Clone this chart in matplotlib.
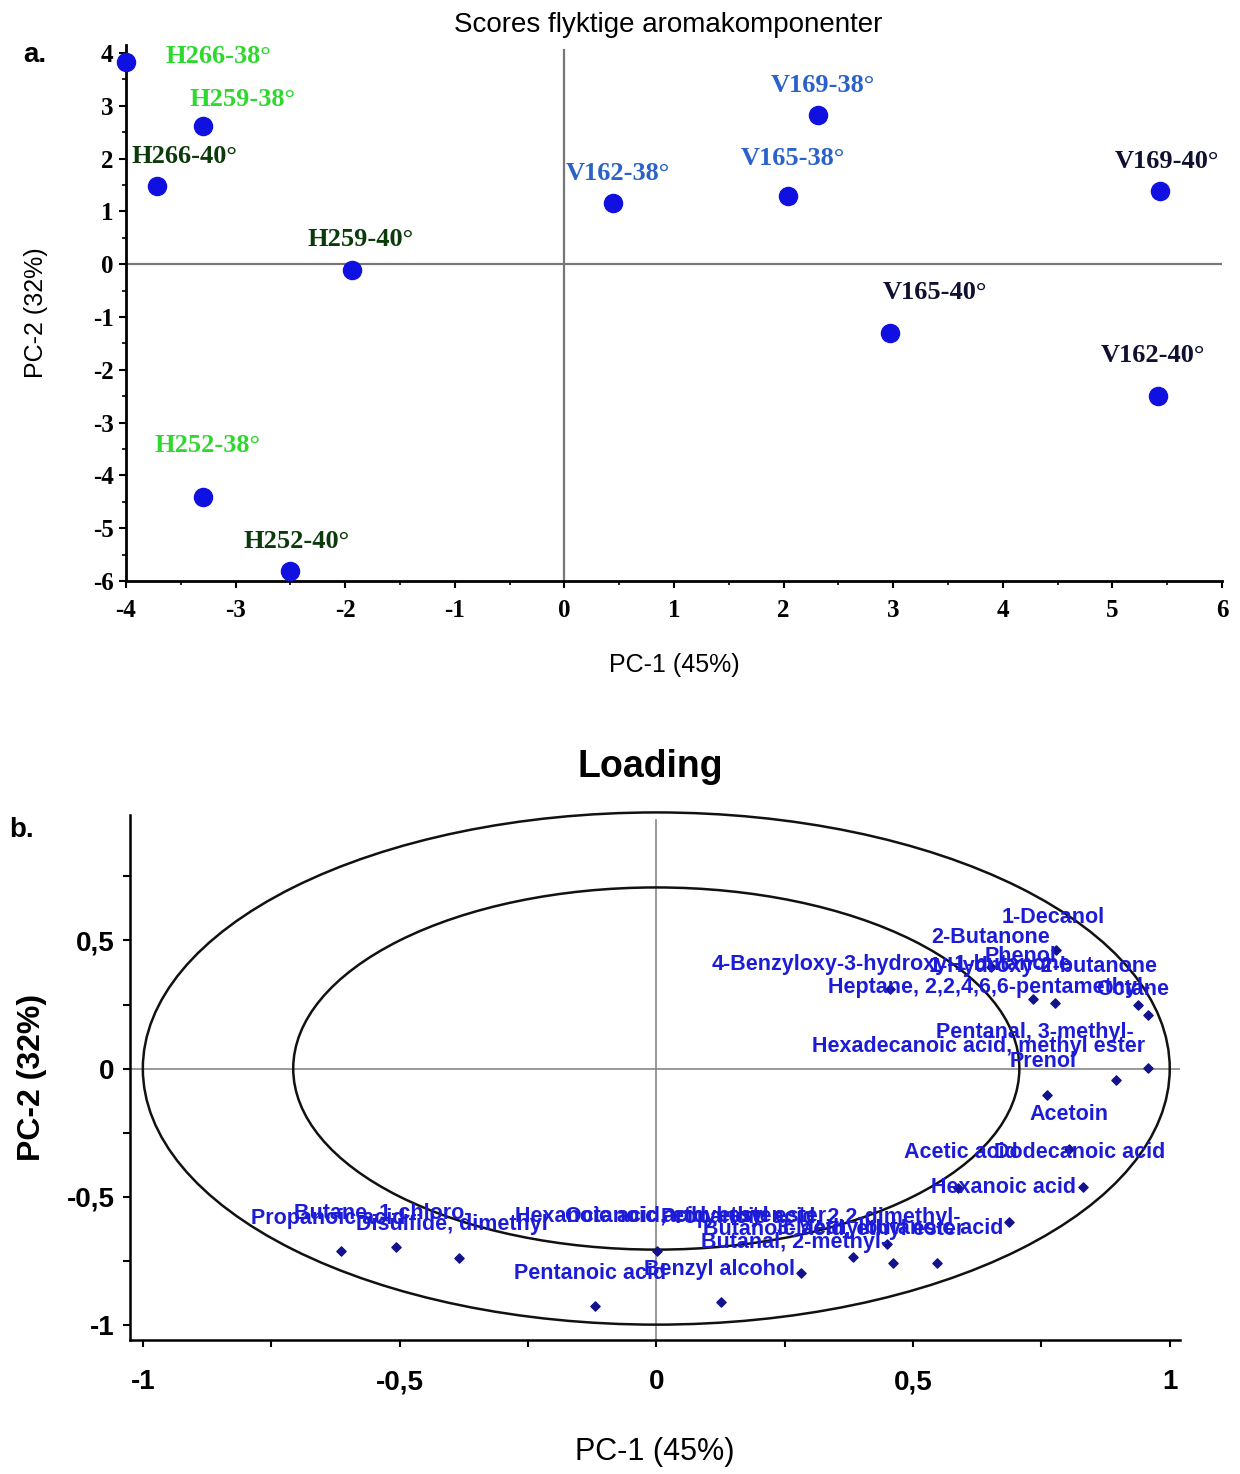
import matplotlib
matplotlib.use("Agg")
import matplotlib.pyplot as plt
from matplotlib.patches import Ellipse
from matplotlib.ticker import MultipleLocator, FuncFormatter

plt.rcParams['axes.unicode_minus'] = False

W, H, DPI = 1240, 1474, 100
PX = 72 / DPI  # points per pixel

# --- scores (panel a) ---
score_names = ['H266-38°', 'H259-38°', 'H266-40°', 'H259-40°', 'H252-38°', 'H252-40°',
               'V162-38°', 'V165-38°', 'V169-38°', 'V169-40°', 'V165-40°', 'V162-40°']
score_pc1 = [-4.0, -3.30, -3.72, -1.94, -3.30, -2.50, 0.44, 2.04, 2.31, 5.43, 2.97, 5.42]
score_pc2 = [3.83, 2.61, 1.48, -0.11, -4.41, -5.81, 1.16, 1.29, 2.82, 1.38, -1.31, -2.50]
score_group = ['H38', 'H38', 'H40', 'H40', 'H38', 'H40', 'V38', 'V38', 'V38', 'V40', 'V40', 'V40']

# --- loadings (panel b) ---
load_names = ['1-Decanol', '2-Butanone', 'Phenol', '4-Benzyloxy-3-hydroxy-1-butanone',
              '1-Hydroxy-2-butanone', 'Heptane, 2,2,4,6,6-pentamethyl-', 'Octane',
              'Pentanal, 3-methyl-', 'Hexadecanoic acid, methyl ester', 'Prenol', 'Acetoin',
              'Acetic acid', 'Dodecanoic acid', 'Hexanoic acid', '3-Methylbutanoic acid',
              'Propanoic acid, 2,2-dimethyl-', 'Butanoic acid, ethyl ester', 'Butanal, 2-methyl-',
              'Octanoic acid, ethyl ester', 'Hexanoic acid, ethyl ester', 'Benzyl alcohol',
              'Pentanoic acid', 'Disulfide, dimethyl', 'Butane, 1-chloro-', 'Propanoic acid']
load_pc1 = [0.778, 0.651, 0.733, 0.456, 0.776, 0.938, 0.957, 0.957, 0.895, 0.760, 0.803,
            0.587, 0.832, 0.686, 0.546, 0.462, 0.384, 0.281, 0.450, 0.002, 0.127, -0.119,
            -0.384, -0.507, -0.614]
load_pc2 = [0.461, 0.395, 0.273, 0.309, 0.254, 0.250, 0.211, 0.004, -0.043, -0.102, -0.316,
            -0.465, -0.461, -0.598, -0.758, -0.758, -0.734, -0.797, -0.684, -0.711, -0.910,
            -0.926, -0.738, -0.695, -0.711]
circle_radii = [1.0, 0.5 ** 0.5]

# label layout (pixels relative to point, y up)
score_off = [(92, 5), (40, 27), (28, 29), (9, 30), (5, 52), (6, 29),
             (5, 29), (5, 38), (5, 30), (7, 30), (45, 41), (-5, 41)]
load_lab = [('center', -3, 33), ('center', 0, 30), ('center', -12, 42), ('left', -179, 25),
            ('right', 103, 37), ('left', -310, 17), ('right', 21, 25), ('right', -14, 35),
            ('left', -304, 33), ('center', -3, 33), ('center', 0, 35), ('left', -54, 35),
            ('right', 82, 34), ('right', 67, 34), ('right', 67, 34), ('right', 67, 45),
            ('left', -150, 27), ('left', -100, 30), ('left', -322, 27), ('left', -142, 34),
            ('center', -2, 32), ('center', -5, 32), ('center', -7, 33), ('center', -13, 34),
            ('center', -13, 32)]

group_colors = {'H38': '#2fd82f', 'H40': '#0b3b0b', 'V38': '#2a62c9', 'V40': '#101030'}

fig = plt.figure(figsize=(W / DPI, H / DPI), dpi=DPI)


def px_axes(x0, y0, x1, y1):
    return fig.add_axes([x0 / W, 1 - y1 / H, (x1 - x0) / W, (y1 - y0) / H])


# ---------------- panel a ----------------
ax1 = px_axes(126, 45, 1222, 581)
ax1.set_xlim(-4, 6)
ax1.set_ylim(-6, 4.15)
ax1.axhline(0, color='#777777', lw=1.6, zorder=1)
ax1.axvline(0, ymax=0.99, color='#777777', lw=1.6, zorder=1)
ax1.scatter(score_pc1, score_pc2, s=170, color='#1010e0', zorder=3, clip_on=False)
for n, x, y, g, (dx, dy) in zip(score_names, score_pc1, score_pc2, score_group, score_off):
    ax1.annotate(n, (x, y), xytext=(dx * PX, dy * PX), textcoords='offset points',
                 ha='center', va='center', fontsize=19, fontweight='bold',
                 family='Liberation Serif', color=group_colors[g])
for s in ['top', 'right']:
    ax1.spines[s].set_visible(False)
for s in ['left', 'bottom']:
    ax1.spines[s].set_linewidth(2)
ax1.xaxis.set_major_locator(MultipleLocator(1))
ax1.xaxis.set_minor_locator(MultipleLocator(0.5))
ax1.yaxis.set_major_locator(MultipleLocator(1))
ax1.yaxis.set_minor_locator(MultipleLocator(0.5))
ax1.xaxis.set_major_formatter(FuncFormatter(lambda v, p: f"{v:g}"))
ax1.yaxis.set_major_formatter(FuncFormatter(lambda v, p: f"{v:g}"))
ax1.tick_params(which='major', length=5, width=1.5, labelsize=18)
ax1.tick_params(which='minor', length=3, width=1.2)
ax1.tick_params(axis='x', pad=8)
ax1.tick_params(axis='y', pad=4)
for lbl in ax1.get_xticklabels() + ax1.get_yticklabels():
    lbl.set_fontfamily('Liberation Serif')
    lbl.set_fontweight('bold')
ax1.set_xlabel('PC-1 (45%)', fontsize=18, family='Liberation Sans', labelpad=22)
ax1.set_ylabel('PC-2 (32%)', fontsize=18, family='Liberation Sans', labelpad=32)
fig.text(668 / W, 1 - 25 / H, 'Scores flyktige aromakomponenter', ha='center', va='center',
         fontsize=20, family='Liberation Sans')
fig.text(35 / W, 1 - 55 / H, 'a.', ha='center', va='center', fontsize=20,
         fontweight='bold', family='Liberation Sans')

# ---------------- panel b ----------------
ax2 = px_axes(130, 815, 1180, 1340)
ax2.set_xlim(-1.025, 1.02)
ax2.set_ylim(-1.06, 0.99)
ax2.axhline(0, color='#888888', lw=1.2, zorder=1)
ax2.axvline(0, ymax=0.99, color='#888888', lw=1.2, zorder=1)
for r in circle_radii:
    ax2.add_patch(Ellipse((0, 0), 2 * r, 2 * r, fill=False, ec='#111111', lw=1.8,
                          zorder=2, clip_on=False))
ax2.scatter(load_pc1, load_pc2, marker='D', s=22, color='#12128c', zorder=3)
for n, x, y, (ha, dx, dy) in zip(load_names, load_pc1, load_pc2, load_lab):
    ax2.annotate(n, (x, y), xytext=(dx * PX, dy * PX), textcoords='offset points',
                 ha=ha, va='center', fontsize=15.5, fontweight='bold',
                 family='Liberation Sans', color='#1c1cd8', zorder=4)
for s in ['top', 'right']:
    ax2.spines[s].set_visible(False)
for s in ['left', 'bottom']:
    ax2.spines[s].set_linewidth(1.8)
ax2.xaxis.set_major_locator(MultipleLocator(0.5))
ax2.xaxis.set_minor_locator(MultipleLocator(0.25))
ax2.yaxis.set_major_locator(MultipleLocator(0.5))
ax2.yaxis.set_minor_locator(MultipleLocator(0.25))
comma = FuncFormatter(lambda v, p: f"{v:g}".replace('.', ','))
ax2.xaxis.set_major_formatter(comma)
ax2.yaxis.set_major_formatter(comma)
ax2.tick_params(which='both', length=5, width=1.5, labelsize=20)
ax2.tick_params(axis='x', pad=16)
ax2.tick_params(axis='y', pad=6)
for lbl in ax2.get_xticklabels() + ax2.get_yticklabels():
    lbl.set_fontfamily('Liberation Sans')
    lbl.set_fontweight('bold')
ax2.set_xlabel('PC-1 (45%)', fontsize=22, family='Liberation Sans', labelpad=30)
ax2.set_ylabel('PC-2 (32%)', fontsize=23, family='Liberation Sans', fontweight='bold',
               labelpad=14)
fig.text(650 / W, 1 - 767 / H, 'Loading', ha='center', va='center', fontsize=27,
         fontweight='bold', family='Liberation Sans')
fig.text(22 / W, 1 - 830 / H, 'b.', ha='center', va='center', fontsize=20,
         fontweight='bold', family='Liberation Sans')

fig.savefig('out.png', dpi=DPI)
